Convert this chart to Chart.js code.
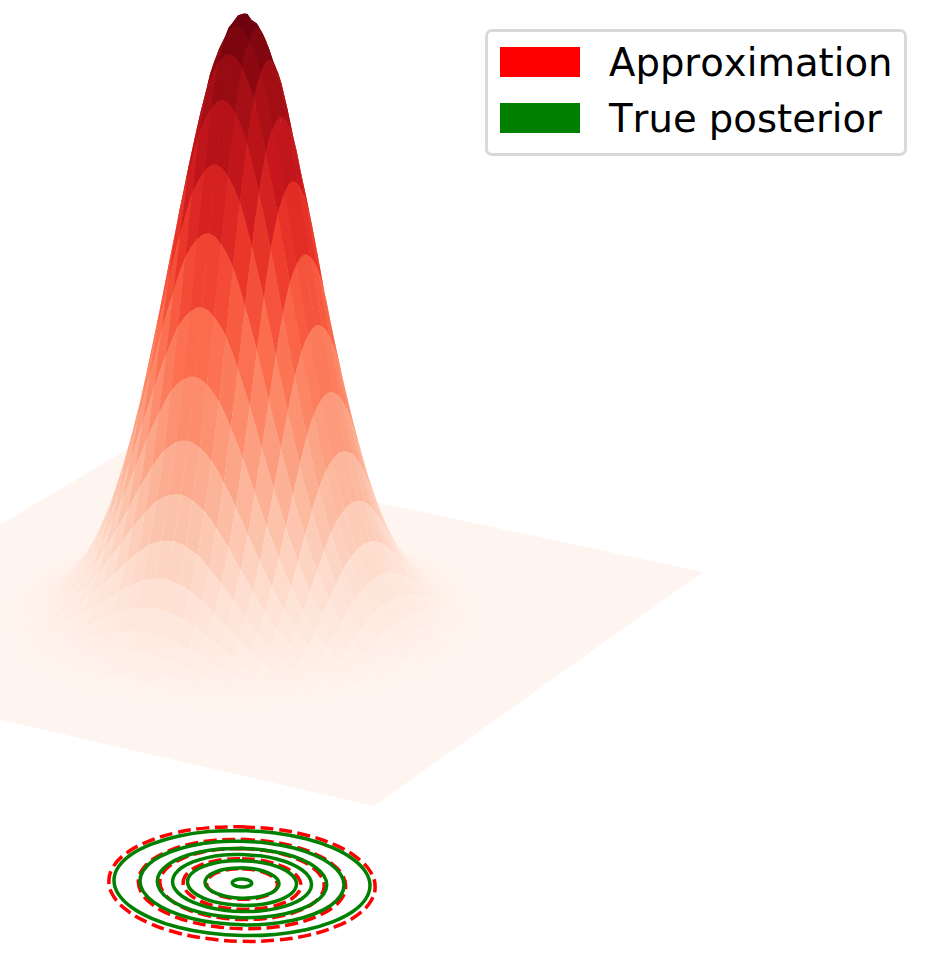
<!DOCTYPE html>
<html>
<head>
<meta charset="utf-8">
<title>Approximation vs true posterior</title>
<script src="https://cdn.jsdelivr.net/npm/chart.js"></script>
<style>
	html, body { margin: 0; padding: 0; background: #fff; }
	#wrap { position: relative; width: 927px; height: 959px; overflow: hidden; }
	#legend {
		position: absolute; left: 485px; top: 29px; width: 422px; height: 127px;
		box-sizing: border-box; border: 3px solid #d9d9d9; border-radius: 7px; background: #fff;
		font-family: "DejaVu Sans", sans-serif; font-size: 38.6px; font-kerning: none; color: #000;
	}
	#legend .swatch { position: absolute; left: 12px; width: 80px; height: 30px; }
	#legend .name { position: absolute; left: 121px; line-height: 46px; white-space: nowrap; }
</style>
</head>
<body>
<div id="wrap">
	<canvas id="chart" width="927" height="959"></canvas>
	<div id="legend"></div>
</div>
<script>
(function() {
	'use strict';

	var rowProfile = [1, .996, .984, .968, .945, .913, .875, .827, .775, .722, .668, .61, .553, .499, .446, .396, .348, .306, .267, .231, .198,
		.169, .143, .121, .102, .085, .07, .058, .047, .038, .03, .024, .019, .015, .011, .008, .006, .004, .003, .0025, .002];
	var colProfile = [1, .995, .98, .958, .93, .888, .84, .79, .737, .68, .62, .563, .507, .452, .4, .351, .306, .265, .227, .194, .163,
		.137, .113, .094, .077, .063, .05, .04, .032, .025, .02, .016, .012, .009, .007, .005, .004, .003, .002, .0015, .001];

	// Contour outline (outermost green ring, offsets from its centre) and ring sizes relative to it.
	var ringX = [0, 33.2, 64, 90.5, 110.8, 123.6, 128, 123.6, 110.8, 90.5, 64, 33.2, 0, -33.2, -64, -90.5, -110.8, -123.6, -128, -123.6, -110.8, -90.5, -64, -33.2, 0];
	var ringY = [-52.5, -50, -44.2, -35.3, -24, -11.1, 2.6, 16.1, 28.5, 38.9, 46.8, 51.4, 52.5, 50, 44.2, 35.3, 24, 11.1, -2.6, -16.1, -28.5, -38.9, -46.8, -51.4, -52.5];
	var trueLevels = [1, 0.797, 0.662, 0.543, 0.426, 0.289, 0.076];
	var approxLevels = [1.04, 0.81, 0.642, 0.46, 0.277];

	var legendLabels = ['Approximation', 'True posterior'];
	var legendColors = ['#ff0000', '#008000'];

	// matplotlib Reds
	var reds = [[255, 245, 240], [254, 224, 210], [252, 187, 161], [252, 146, 114], [251, 106, 74], [239, 59, 44], [203, 24, 29], [165, 15, 21], [103, 0, 13]];

	// Where the floor corners land on the page, and contour centres
	var floorCorners = [[374, 806], [703, 572], [128, 449], [-237, 665]];
	var peakHeight = 604;
	var trueCentre = [242, 883];
	var approxCentre = [242, 884];
	var approxFlatten = 1.05;
	var halfCells = 25;

	var camera = (function(p) {
		var dx1 = p[1][0] - p[2][0], dx2 = p[3][0] - p[2][0], sx = p[0][0] - p[1][0] + p[2][0] - p[3][0];
		var dy1 = p[1][1] - p[2][1], dy2 = p[3][1] - p[2][1], sy = p[0][1] - p[1][1] + p[2][1] - p[3][1];
		var det = dx1 * dy2 - dx2 * dy1;
		var g = (sx * dy2 - dx2 * sy) / det;
		var h = (dx1 * sy - sx * dy1) / det;
		return {
			a: p[1][0] - p[0][0] + g * p[1][0], b: p[3][0] - p[0][0] + h * p[3][0], c: p[0][0],
			d: p[1][1] - p[0][1] + g * p[1][1], e: p[3][1] - p[0][1] + h * p[3][1], f: p[0][1],
			g: g, h: h
		};
	})(floorCorners);

	function height(i, j) {
		var a = rowProfile[Math.abs(i) * 2], b = colProfile[Math.abs(j) * 2];
		return (a === undefined || b === undefined) ? 0 : a * b;
	}

	// grid index (centre = 0) and height to page position
	function project(i, j, z) {
		var u = (i + halfCells) / (2 * halfCells);
		var v = (j + halfCells) / (2 * halfCells);
		var w = camera.g * u + camera.h * v + 1;
		var w0 = (camera.g + camera.h) / 2 + 1;
		return {
			x: (camera.a * u + camera.b * v + camera.c) / w,
			y: (camera.d * u + camera.e * v + camera.f) / w - z * peakHeight * w0 / w
		};
	}

	function redsColor(t) {
		var pos = Math.min(Math.max(t, 0), 1) * (reds.length - 1);
		var k = Math.min(Math.floor(pos), reds.length - 2);
		var f = pos - k;
		var c = [0, 1, 2].map(function(n) {
			return Math.round(reds[k][n] + (reds[k + 1][n] - reds[k][n]) * f);
		});
		return 'rgb(' + c.join(',') + ')';
	}

	// The filler clips to first..last x, so walk the outline from its leftmost corner
	// and finish on the rightmost: the extra leg has no area.
	function polygonPoints(corners) {
		var left = 0, right = 0;
		corners.forEach(function(p, n) {
			if (p.x < corners[left].x) { left = n; }
			if (p.x > corners[right].x) { right = n; }
		});
		var pts = [];
		for (var n = 0; n <= corners.length; n++) {
			pts.push(corners[(left + n) % corners.length]);
		}
		pts.push(corners[right]);
		return pts;
	}

	function faceDataset(corners, color) {
		return {
			data: polygonPoints(corners),
			showLine: true,
			fill: 'shape',
			backgroundColor: color,
			borderWidth: 0,
			borderDash: [1],
			pointRadius: 0
		};
	}

	function ringDataset(label, color, dash, level, centre, flatten) {
		return {
			label: label,
			data: ringX.map(function(x, n) {
				return { x: centre[0] + x * level, y: centre[1] + ringY[n] * level * flatten };
			}),
			showLine: true,
			fill: false,
			borderColor: color,
			borderWidth: 3.5,
			borderDash: dash,
			tension: 0.4,
			pointRadius: 0
		};
	}

	// Each face keeps the bent outline of the surface along its edges
	var faceOutline = [[0, 0], [.5, 0], [1, 0], [1, .5], [1, 1], [.5, 1], [0, 1], [0, .5]];

	// Faces sorted back to front by floor position
	var faces = [];
	for (var i = -halfCells; i < halfCells; i++) {
		for (var j = -halfCells; j < halfCells; j++) {
			var sum = 0;
			var corners = faceOutline.map(function(step) {
				var h = height(i + step[0], j + step[1]);
				sum += h;
				return project(i + step[0], j + step[1], h);
			});
			var z = sum / faceOutline.length;
			if (z < 0.003) {
				continue;
			}
			faces.push({ depth: project(i + 0.5, j + 0.5, 0).y, color: redsColor(z), corners: corners });
		}
	}
	faces.sort(function(a, b) { return b.depth - a.depth; });

	// Chart.js paints the last dataset first, so the floor goes at the end.
	var datasets = [];
	trueLevels.forEach(function(level) {
		datasets.push(ringDataset(legendLabels[1], legendColors[1], [], level, trueCentre, 1));
	});
	approxLevels.forEach(function(level) {
		datasets.push(ringDataset(legendLabels[0], legendColors[0], [13, 5.6], level, approxCentre, approxFlatten));
	});
	faces.forEach(function(face) {
		datasets.push(faceDataset(face.corners, face.color));
	});
	datasets.push(faceDataset([
		project(-halfCells, -halfCells, 0),
		project(halfCells, -halfCells, 0),
		project(halfCells, halfCells, 0),
		project(-halfCells, halfCells, 0)
	], redsColor(0)));

	new Chart(document.getElementById('chart'), {
		type: 'scatter',
		data: { datasets: datasets },
		options: {
			responsive: false,
			animation: false,
			events: [],
			layout: { padding: 0 },
			plugins: {
				legend: { display: false },
				tooltip: { enabled: false }
			},
			scales: {
				x: { type: 'linear', min: 0, max: 927, display: false },
				y: { type: 'linear', min: 0, max: 959, reverse: true, display: false }
			}
		}
	});

	var legend = document.getElementById('legend');
	legendLabels.forEach(function(label, n) {
		var swatch = document.createElement('div');
		swatch.className = 'swatch';
		swatch.style.top = (15 + n * 56) + 'px';
		swatch.style.background = legendColors[n];
		legend.appendChild(swatch);

		var name = document.createElement('div');
		name.className = 'name';
		name.style.top = (8 + n * 56) + 'px';
		name.textContent = label;
		legend.appendChild(name);
	});
})();
</script>
</body>
</html>
